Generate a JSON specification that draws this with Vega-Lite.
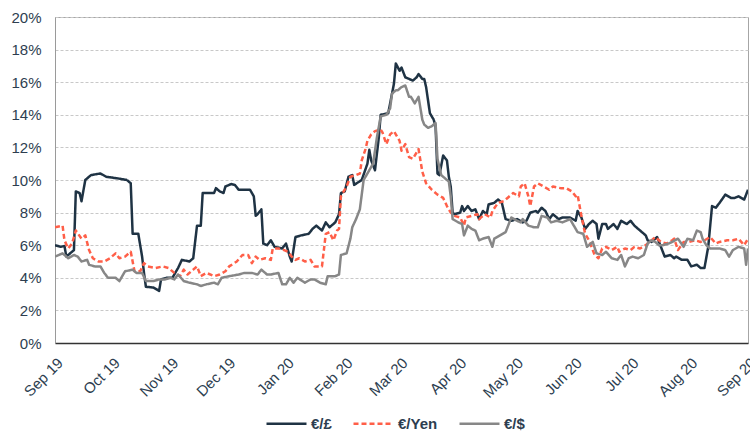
{
  "$schema": "https://vega.github.io/schema/vega-lite/v6.json",
  "width": 693,
  "height": 326,
  "autosize": {"type": "none"},
  "padding": {"left": 55, "top": 17, "right": 2, "bottom": 96},
  "background": "white",
  "config": {
    "font": "Liberation Sans",
    "view": {"stroke": "#a6a6a6", "strokeWidth": 1},
    "axis": {"labelFont": "Liberation Sans", "labelColor": "#2d3e50", "labelFontSize": 15}
  },
  "data": {"values": [
    {"d":"2019-09-01","s":"€/£","v":6.0},{"d":"2019-09-04","s":"€/£","v":5.9},{"d":"2019-09-06","s":"€/£","v":5.95},{"d":"2019-09-07","s":"€/£","v":5.3},{"d":"2019-09-10","s":"€/£","v":5.6},{"d":"2019-09-11","s":"€/£","v":5.7},{"d":"2019-09-12","s":"€/£","v":9.3},{"d":"2019-09-14","s":"€/£","v":9.2},{"d":"2019-09-15","s":"€/£","v":8.7},{"d":"2019-09-17","s":"€/£","v":10.0},{"d":"2019-09-20","s":"€/£","v":10.3},{"d":"2019-09-25","s":"€/£","v":10.4},{"d":"2019-09-28","s":"€/£","v":10.2},{"d":"2019-10-04","s":"€/£","v":10.1},{"d":"2019-10-09","s":"€/£","v":10.0},{"d":"2019-10-11","s":"€/£","v":9.8},{"d":"2019-10-12","s":"€/£","v":6.7},{"d":"2019-10-15","s":"€/£","v":6.7},{"d":"2019-10-17","s":"€/£","v":5.3},{"d":"2019-10-18","s":"€/£","v":4.3},{"d":"2019-10-19","s":"€/£","v":3.45},{"d":"2019-10-23","s":"€/£","v":3.4},{"d":"2019-10-26","s":"€/£","v":3.2},{"d":"2019-10-27","s":"€/£","v":3.9},{"d":"2019-10-30","s":"€/£","v":4.0},{"d":"2019-11-02","s":"€/£","v":4.0},{"d":"2019-11-05","s":"€/£","v":4.6},{"d":"2019-11-07","s":"€/£","v":5.1},{"d":"2019-11-11","s":"€/£","v":5.0},{"d":"2019-11-13","s":"€/£","v":5.2},{"d":"2019-11-15","s":"€/£","v":7.2},{"d":"2019-11-17","s":"€/£","v":7.2},{"d":"2019-11-18","s":"€/£","v":9.2},{"d":"2019-11-24","s":"€/£","v":9.2},{"d":"2019-11-25","s":"€/£","v":9.5},{"d":"2019-11-27","s":"€/£","v":9.3},{"d":"2019-11-29","s":"€/£","v":9.2},{"d":"2019-11-30","s":"€/£","v":9.6},{"d":"2019-12-03","s":"€/£","v":9.75},{"d":"2019-12-05","s":"€/£","v":9.7},{"d":"2019-12-07","s":"€/£","v":9.4},{"d":"2019-12-13","s":"€/£","v":9.4},{"d":"2019-12-15","s":"€/£","v":9.0},{"d":"2019-12-16","s":"€/£","v":7.8},{"d":"2019-12-17","s":"€/£","v":7.9},{"d":"2019-12-19","s":"€/£","v":8.2},{"d":"2019-12-20","s":"€/£","v":6.1},{"d":"2019-12-22","s":"€/£","v":6.0},{"d":"2019-12-24","s":"€/£","v":6.3},{"d":"2019-12-26","s":"€/£","v":5.9},{"d":"2019-12-30","s":"€/£","v":5.8},{"d":"2020-01-01","s":"€/£","v":6.1},{"d":"2020-01-03","s":"€/£","v":5.3},{"d":"2020-01-04","s":"€/£","v":5.0},{"d":"2020-01-06","s":"€/£","v":6.5},{"d":"2020-01-09","s":"€/£","v":6.6},{"d":"2020-01-13","s":"€/£","v":6.7},{"d":"2020-01-15","s":"€/£","v":7.0},{"d":"2020-01-17","s":"€/£","v":7.2},{"d":"2020-01-20","s":"€/£","v":6.9},{"d":"2020-01-22","s":"€/£","v":7.4},{"d":"2020-01-24","s":"€/£","v":7.1},{"d":"2020-01-27","s":"€/£","v":7.4},{"d":"2020-01-29","s":"€/£","v":7.9},{"d":"2020-01-30","s":"€/£","v":9.2},{"d":"2020-02-01","s":"€/£","v":9.3},{"d":"2020-02-03","s":"€/£","v":10.2},{"d":"2020-02-05","s":"€/£","v":10.3},{"d":"2020-02-06","s":"€/£","v":9.7},{"d":"2020-02-10","s":"€/£","v":10.0},{"d":"2020-02-13","s":"€/£","v":11.0},{"d":"2020-02-14","s":"€/£","v":11.85},{"d":"2020-02-15","s":"€/£","v":11.2},{"d":"2020-02-17","s":"€/£","v":10.6},{"d":"2020-02-19","s":"€/£","v":12.6},{"d":"2020-02-20","s":"€/£","v":14.0},{"d":"2020-02-24","s":"€/£","v":14.1},{"d":"2020-02-26","s":"€/£","v":15.3},{"d":"2020-02-27","s":"€/£","v":15.9},{"d":"2020-02-28","s":"€/£","v":17.15},{"d":"2020-03-01","s":"€/£","v":16.7},{"d":"2020-03-02","s":"€/£","v":16.9},{"d":"2020-03-04","s":"€/£","v":16.3},{"d":"2020-03-06","s":"€/£","v":16.2},{"d":"2020-03-08","s":"€/£","v":16.1},{"d":"2020-03-10","s":"€/£","v":16.3},{"d":"2020-03-11","s":"€/£","v":16.5},{"d":"2020-03-13","s":"€/£","v":16.2},{"d":"2020-03-14","s":"€/£","v":16.2},{"d":"2020-03-15","s":"€/£","v":15.7},{"d":"2020-03-17","s":"€/£","v":14.1},{"d":"2020-03-19","s":"€/£","v":13.7},{"d":"2020-03-20","s":"€/£","v":13.3},{"d":"2020-03-21","s":"€/£","v":10.4},{"d":"2020-03-22","s":"€/£","v":10.3},{"d":"2020-03-24","s":"€/£","v":11.5},{"d":"2020-03-26","s":"€/£","v":11.2},{"d":"2020-03-27","s":"€/£","v":10.2},{"d":"2020-03-28","s":"€/£","v":9.6},{"d":"2020-03-29","s":"€/£","v":8.0},{"d":"2020-03-30","s":"€/£","v":7.9},{"d":"2020-04-02","s":"€/£","v":8.0},{"d":"2020-04-03","s":"€/£","v":8.4},{"d":"2020-04-04","s":"€/£","v":8.1},{"d":"2020-04-06","s":"€/£","v":8.4},{"d":"2020-04-08","s":"€/£","v":8.1},{"d":"2020-04-10","s":"€/£","v":8.2},{"d":"2020-04-12","s":"€/£","v":7.6},{"d":"2020-04-14","s":"€/£","v":8.1},{"d":"2020-04-16","s":"€/£","v":7.9},{"d":"2020-04-17","s":"€/£","v":8.5},{"d":"2020-04-20","s":"€/£","v":8.6},{"d":"2020-04-22","s":"€/£","v":8.8},{"d":"2020-04-24","s":"€/£","v":8.6},{"d":"2020-04-26","s":"€/£","v":7.6},{"d":"2020-04-29","s":"€/£","v":7.5},{"d":"2020-05-02","s":"€/£","v":7.6},{"d":"2020-05-05","s":"€/£","v":7.4},{"d":"2020-05-07","s":"€/£","v":7.5},{"d":"2020-05-09","s":"€/£","v":8.0},{"d":"2020-05-12","s":"€/£","v":8.1},{"d":"2020-05-13","s":"€/£","v":8.0},{"d":"2020-05-15","s":"€/£","v":8.3},{"d":"2020-05-17","s":"€/£","v":8.1},{"d":"2020-05-19","s":"€/£","v":7.6},{"d":"2020-05-21","s":"€/£","v":7.9},{"d":"2020-05-24","s":"€/£","v":7.6},{"d":"2020-05-26","s":"€/£","v":7.7},{"d":"2020-05-30","s":"€/£","v":7.7},{"d":"2020-06-02","s":"€/£","v":7.5},{"d":"2020-06-03","s":"€/£","v":8.1},{"d":"2020-06-05","s":"€/£","v":7.7},{"d":"2020-06-07","s":"€/£","v":7.0},{"d":"2020-06-09","s":"€/£","v":7.3},{"d":"2020-06-11","s":"€/£","v":7.5},{"d":"2020-06-13","s":"€/£","v":7.3},{"d":"2020-06-14","s":"€/£","v":6.4},{"d":"2020-06-16","s":"€/£","v":7.3},{"d":"2020-06-18","s":"€/£","v":7.3},{"d":"2020-06-19","s":"€/£","v":7.0},{"d":"2020-06-22","s":"€/£","v":7.3},{"d":"2020-06-24","s":"€/£","v":7.0},{"d":"2020-06-26","s":"€/£","v":7.5},{"d":"2020-06-29","s":"€/£","v":7.3},{"d":"2020-07-01","s":"€/£","v":7.5},{"d":"2020-07-03","s":"€/£","v":7.2},{"d":"2020-07-06","s":"€/£","v":6.9},{"d":"2020-07-09","s":"€/£","v":6.6},{"d":"2020-07-10","s":"€/£","v":6.3},{"d":"2020-07-12","s":"€/£","v":6.2},{"d":"2020-07-15","s":"€/£","v":6.5},{"d":"2020-07-17","s":"€/£","v":5.9},{"d":"2020-07-19","s":"€/£","v":5.3},{"d":"2020-07-22","s":"€/£","v":5.4},{"d":"2020-07-24","s":"€/£","v":5.2},{"d":"2020-07-25","s":"€/£","v":5.3},{"d":"2020-07-28","s":"€/£","v":5.1},{"d":"2020-07-31","s":"€/£","v":5.1},{"d":"2020-08-02","s":"€/£","v":4.7},{"d":"2020-08-05","s":"€/£","v":4.8},{"d":"2020-08-07","s":"€/£","v":4.6},{"d":"2020-08-09","s":"€/£","v":4.6},{"d":"2020-08-11","s":"€/£","v":5.9},{"d":"2020-08-13","s":"€/£","v":8.4},{"d":"2020-08-15","s":"€/£","v":8.3},{"d":"2020-08-17","s":"€/£","v":8.6},{"d":"2020-08-20","s":"€/£","v":9.1},{"d":"2020-08-23","s":"€/£","v":8.9},{"d":"2020-08-25","s":"€/£","v":8.9},{"d":"2020-08-27","s":"€/£","v":9.0},{"d":"2020-08-30","s":"€/£","v":8.8},{"d":"2020-08-31","s":"€/£","v":9.1},{"d":"2020-09-01","s":"€/£","v":9.4},

    {"d":"2019-09-01","s":"€/Yen","v":7.1},{"d":"2019-09-05","s":"€/Yen","v":7.2},{"d":"2019-09-06","s":"€/Yen","v":6.3},{"d":"2019-09-08","s":"€/Yen","v":5.8},{"d":"2019-09-10","s":"€/Yen","v":6.1},{"d":"2019-09-12","s":"€/Yen","v":6.9},{"d":"2019-09-15","s":"€/Yen","v":6.4},{"d":"2019-09-17","s":"€/Yen","v":6.6},{"d":"2019-09-19","s":"€/Yen","v":5.7},{"d":"2019-09-21","s":"€/Yen","v":5.2},{"d":"2019-09-24","s":"€/Yen","v":5.0},{"d":"2019-09-27","s":"€/Yen","v":5.0},{"d":"2019-09-30","s":"€/Yen","v":5.2},{"d":"2019-10-03","s":"€/Yen","v":5.5},{"d":"2019-10-05","s":"€/Yen","v":5.2},{"d":"2019-10-08","s":"€/Yen","v":5.3},{"d":"2019-10-11","s":"€/Yen","v":5.6},{"d":"2019-10-13","s":"€/Yen","v":4.4},{"d":"2019-10-16","s":"€/Yen","v":4.4},{"d":"2019-10-18","s":"€/Yen","v":4.9},{"d":"2019-10-20","s":"€/Yen","v":4.7},{"d":"2019-10-24","s":"€/Yen","v":4.6},{"d":"2019-10-28","s":"€/Yen","v":4.7},{"d":"2019-10-31","s":"€/Yen","v":4.6},{"d":"2019-11-03","s":"€/Yen","v":4.3},{"d":"2019-11-06","s":"€/Yen","v":4.1},{"d":"2019-11-08","s":"€/Yen","v":4.5},{"d":"2019-11-10","s":"€/Yen","v":4.2},{"d":"2019-11-13","s":"€/Yen","v":4.5},{"d":"2019-11-15","s":"€/Yen","v":4.7},{"d":"2019-11-17","s":"€/Yen","v":4.1},{"d":"2019-11-20","s":"€/Yen","v":4.3},{"d":"2019-11-24","s":"€/Yen","v":4.1},{"d":"2019-11-27","s":"€/Yen","v":4.2},{"d":"2019-11-30","s":"€/Yen","v":4.4},{"d":"2019-12-02","s":"€/Yen","v":4.7},{"d":"2019-12-06","s":"€/Yen","v":5.0},{"d":"2019-12-09","s":"€/Yen","v":5.4},{"d":"2019-12-12","s":"€/Yen","v":5.4},{"d":"2019-12-14","s":"€/Yen","v":4.9},{"d":"2019-12-16","s":"€/Yen","v":5.3},{"d":"2019-12-18","s":"€/Yen","v":5.1},{"d":"2019-12-21","s":"€/Yen","v":5.2},{"d":"2019-12-24","s":"€/Yen","v":5.1},{"d":"2019-12-25","s":"€/Yen","v":5.8},{"d":"2019-12-28","s":"€/Yen","v":5.8},{"d":"2019-12-31","s":"€/Yen","v":5.7},{"d":"2020-01-02","s":"€/Yen","v":5.6},{"d":"2020-01-04","s":"€/Yen","v":5.3},{"d":"2020-01-06","s":"€/Yen","v":5.1},{"d":"2020-01-08","s":"€/Yen","v":5.2},{"d":"2020-01-11","s":"€/Yen","v":5.0},{"d":"2020-01-14","s":"€/Yen","v":5.1},{"d":"2020-01-16","s":"€/Yen","v":4.7},{"d":"2020-01-20","s":"€/Yen","v":4.7},{"d":"2020-01-22","s":"€/Yen","v":6.7},{"d":"2020-01-24","s":"€/Yen","v":6.8},{"d":"2020-01-26","s":"€/Yen","v":6.3},{"d":"2020-01-28","s":"€/Yen","v":6.9},{"d":"2020-01-29","s":"€/Yen","v":7.0},{"d":"2020-01-30","s":"€/Yen","v":9.0},{"d":"2020-02-02","s":"€/Yen","v":9.6},{"d":"2020-02-04","s":"€/Yen","v":10.2},{"d":"2020-02-07","s":"€/Yen","v":10.3},{"d":"2020-02-09","s":"€/Yen","v":10.4},{"d":"2020-02-10","s":"€/Yen","v":11.2},{"d":"2020-02-12","s":"€/Yen","v":11.9},{"d":"2020-02-13","s":"€/Yen","v":12.4},{"d":"2020-02-15","s":"€/Yen","v":12.8},{"d":"2020-02-17","s":"€/Yen","v":13.0},{"d":"2020-02-20","s":"€/Yen","v":13.1},{"d":"2020-02-21","s":"€/Yen","v":12.9},{"d":"2020-02-23","s":"€/Yen","v":12.2},{"d":"2020-02-25","s":"€/Yen","v":12.8},{"d":"2020-02-27","s":"€/Yen","v":13.0},{"d":"2020-02-29","s":"€/Yen","v":12.6},{"d":"2020-03-01","s":"€/Yen","v":12.4},{"d":"2020-03-02","s":"€/Yen","v":11.8},{"d":"2020-03-04","s":"€/Yen","v":12.2},{"d":"2020-03-06","s":"€/Yen","v":11.4},{"d":"2020-03-08","s":"€/Yen","v":11.3},{"d":"2020-03-11","s":"€/Yen","v":11.9},{"d":"2020-03-13","s":"€/Yen","v":10.5},{"d":"2020-03-15","s":"€/Yen","v":9.8},{"d":"2020-03-18","s":"€/Yen","v":9.4},{"d":"2020-03-21","s":"€/Yen","v":9.1},{"d":"2020-03-24","s":"€/Yen","v":8.9},{"d":"2020-03-26","s":"€/Yen","v":8.4},{"d":"2020-03-28","s":"€/Yen","v":8.0},{"d":"2020-03-30","s":"€/Yen","v":7.8},{"d":"2020-04-02","s":"€/Yen","v":7.7},{"d":"2020-04-04","s":"€/Yen","v":7.2},{"d":"2020-04-05","s":"€/Yen","v":7.7},{"d":"2020-04-08","s":"€/Yen","v":7.8},{"d":"2020-04-11","s":"€/Yen","v":7.9},{"d":"2020-04-12","s":"€/Yen","v":7.6},{"d":"2020-04-15","s":"€/Yen","v":7.9},{"d":"2020-04-18","s":"€/Yen","v":7.7},{"d":"2020-04-19","s":"€/Yen","v":8.1},{"d":"2020-04-22","s":"€/Yen","v":8.6},{"d":"2020-04-25","s":"€/Yen","v":8.7},{"d":"2020-04-27","s":"€/Yen","v":8.9},{"d":"2020-04-30","s":"€/Yen","v":9.2},{"d":"2020-05-03","s":"€/Yen","v":9.0},{"d":"2020-05-04","s":"€/Yen","v":9.6},{"d":"2020-05-06","s":"€/Yen","v":9.8},{"d":"2020-05-08","s":"€/Yen","v":9.0},{"d":"2020-05-09","s":"€/Yen","v":8.4},{"d":"2020-05-11","s":"€/Yen","v":9.6},{"d":"2020-05-13","s":"€/Yen","v":9.8},{"d":"2020-05-16","s":"€/Yen","v":9.6},{"d":"2020-05-19","s":"€/Yen","v":9.4},{"d":"2020-05-21","s":"€/Yen","v":9.6},{"d":"2020-05-25","s":"€/Yen","v":9.5},{"d":"2020-05-28","s":"€/Yen","v":9.5},{"d":"2020-05-31","s":"€/Yen","v":9.3},{"d":"2020-06-02","s":"€/Yen","v":9.0},{"d":"2020-06-03","s":"€/Yen","v":9.1},{"d":"2020-06-05","s":"€/Yen","v":7.8},{"d":"2020-06-07","s":"€/Yen","v":6.7},{"d":"2020-06-09","s":"€/Yen","v":6.3},{"d":"2020-06-12","s":"€/Yen","v":5.4},{"d":"2020-06-14","s":"€/Yen","v":5.2},{"d":"2020-06-16","s":"€/Yen","v":5.8},{"d":"2020-06-18","s":"€/Yen","v":5.9},{"d":"2020-06-21","s":"€/Yen","v":5.7},{"d":"2020-06-24","s":"€/Yen","v":5.9},{"d":"2020-06-25","s":"€/Yen","v":5.6},{"d":"2020-06-28","s":"€/Yen","v":5.8},{"d":"2020-07-01","s":"€/Yen","v":5.7},{"d":"2020-07-03","s":"€/Yen","v":5.9},{"d":"2020-07-06","s":"€/Yen","v":5.8},{"d":"2020-07-09","s":"€/Yen","v":6.0},{"d":"2020-07-11","s":"€/Yen","v":6.2},{"d":"2020-07-14","s":"€/Yen","v":6.5},{"d":"2020-07-16","s":"€/Yen","v":6.3},{"d":"2020-07-17","s":"€/Yen","v":6.2},{"d":"2020-07-20","s":"€/Yen","v":6.1},{"d":"2020-07-23","s":"€/Yen","v":6.3},{"d":"2020-07-24","s":"€/Yen","v":6.4},{"d":"2020-07-26","s":"€/Yen","v":5.7},{"d":"2020-07-29","s":"€/Yen","v":6.2},{"d":"2020-08-01","s":"€/Yen","v":6.2},{"d":"2020-08-04","s":"€/Yen","v":6.3},{"d":"2020-08-07","s":"€/Yen","v":6.2},{"d":"2020-08-09","s":"€/Yen","v":6.3},{"d":"2020-08-12","s":"€/Yen","v":6.5},{"d":"2020-08-15","s":"€/Yen","v":6.1},{"d":"2020-08-17","s":"€/Yen","v":6.2},{"d":"2020-08-21","s":"€/Yen","v":6.3},{"d":"2020-08-24","s":"€/Yen","v":6.3},{"d":"2020-08-27","s":"€/Yen","v":6.4},{"d":"2020-08-30","s":"€/Yen","v":6.0},{"d":"2020-09-01","s":"€/Yen","v":6.4},

    {"d":"2019-09-01","s":"€/$","v":5.3},{"d":"2019-09-05","s":"€/$","v":5.5},{"d":"2019-09-08","s":"€/$","v":5.2},{"d":"2019-09-11","s":"€/$","v":5.4},{"d":"2019-09-13","s":"€/$","v":5.3},{"d":"2019-09-15","s":"€/$","v":5.0},{"d":"2019-09-18","s":"€/$","v":5.1},{"d":"2019-09-19","s":"€/$","v":4.8},{"d":"2019-09-22","s":"€/$","v":4.7},{"d":"2019-09-25","s":"€/$","v":4.7},{"d":"2019-09-27","s":"€/$","v":4.3},{"d":"2019-09-29","s":"€/$","v":4.0},{"d":"2019-10-03","s":"€/$","v":4.0},{"d":"2019-10-05","s":"€/$","v":3.8},{"d":"2019-10-08","s":"€/$","v":4.4},{"d":"2019-10-12","s":"€/$","v":4.5},{"d":"2019-10-14","s":"€/$","v":4.3},{"d":"2019-10-17","s":"€/$","v":4.3},{"d":"2019-10-19","s":"€/$","v":3.8},{"d":"2019-10-23","s":"€/$","v":3.8},{"d":"2019-10-26","s":"€/$","v":3.9},{"d":"2019-10-29","s":"€/$","v":3.9},{"d":"2019-11-01","s":"€/$","v":4.0},{"d":"2019-11-03","s":"€/$","v":3.9},{"d":"2019-11-05","s":"€/$","v":4.2},{"d":"2019-11-08","s":"€/$","v":3.8},{"d":"2019-11-11","s":"€/$","v":3.7},{"d":"2019-11-15","s":"€/$","v":3.6},{"d":"2019-11-17","s":"€/$","v":3.5},{"d":"2019-11-20","s":"€/$","v":3.6},{"d":"2019-11-24","s":"€/$","v":3.7},{"d":"2019-11-26","s":"€/$","v":3.6},{"d":"2019-11-28","s":"€/$","v":4.0},{"d":"2019-12-02","s":"€/$","v":4.1},{"d":"2019-12-07","s":"€/$","v":4.2},{"d":"2019-12-10","s":"€/$","v":4.3},{"d":"2019-12-14","s":"€/$","v":4.3},{"d":"2019-12-17","s":"€/$","v":4.2},{"d":"2019-12-19","s":"€/$","v":4.5},{"d":"2019-12-22","s":"€/$","v":4.2},{"d":"2019-12-24","s":"€/$","v":4.2},{"d":"2019-12-28","s":"€/$","v":4.3},{"d":"2019-12-30","s":"€/$","v":3.6},{"d":"2020-01-01","s":"€/$","v":3.6},{"d":"2020-01-03","s":"€/$","v":4.0},{"d":"2020-01-05","s":"€/$","v":3.7},{"d":"2020-01-07","s":"€/$","v":4.0},{"d":"2020-01-11","s":"€/$","v":3.7},{"d":"2020-01-14","s":"€/$","v":3.9},{"d":"2020-01-16","s":"€/$","v":3.9},{"d":"2020-01-19","s":"€/$","v":3.7},{"d":"2020-01-22","s":"€/$","v":3.6},{"d":"2020-01-23","s":"€/$","v":4.1},{"d":"2020-01-27","s":"€/$","v":4.1},{"d":"2020-01-29","s":"€/$","v":4.2},{"d":"2020-01-30","s":"€/$","v":5.4},{"d":"2020-02-02","s":"€/$","v":5.5},{"d":"2020-02-04","s":"€/$","v":6.4},{"d":"2020-02-05","s":"€/$","v":7.1},{"d":"2020-02-07","s":"€/$","v":7.6},{"d":"2020-02-09","s":"€/$","v":8.2},{"d":"2020-02-11","s":"€/$","v":10.0},{"d":"2020-02-13","s":"€/$","v":10.4},{"d":"2020-02-14","s":"€/$","v":10.6},{"d":"2020-02-16","s":"€/$","v":11.0},{"d":"2020-02-17","s":"€/$","v":11.8},{"d":"2020-02-18","s":"€/$","v":12.6},{"d":"2020-02-20","s":"€/$","v":13.9},{"d":"2020-02-23","s":"€/$","v":14.0},{"d":"2020-02-25","s":"€/$","v":14.4},{"d":"2020-02-26","s":"€/$","v":15.3},{"d":"2020-02-28","s":"€/$","v":15.5},{"d":"2020-02-29","s":"€/$","v":15.5},{"d":"2020-03-02","s":"€/$","v":15.7},{"d":"2020-03-04","s":"€/$","v":15.8},{"d":"2020-03-06","s":"€/$","v":15.1},{"d":"2020-03-07","s":"€/$","v":15.1},{"d":"2020-03-09","s":"€/$","v":14.7},{"d":"2020-03-11","s":"€/$","v":15.1},{"d":"2020-03-13","s":"€/$","v":13.7},{"d":"2020-03-14","s":"€/$","v":13.4},{"d":"2020-03-16","s":"€/$","v":13.2},{"d":"2020-03-18","s":"€/$","v":13.3},{"d":"2020-03-20","s":"€/$","v":13.5},{"d":"2020-03-21","s":"€/$","v":11.3},{"d":"2020-03-23","s":"€/$","v":10.3},{"d":"2020-03-25","s":"€/$","v":10.1},{"d":"2020-03-27","s":"€/$","v":9.9},{"d":"2020-03-28","s":"€/$","v":9.0},{"d":"2020-03-29","s":"€/$","v":7.6},{"d":"2020-04-01","s":"€/$","v":7.4},{"d":"2020-04-03","s":"€/$","v":7.3},{"d":"2020-04-04","s":"€/$","v":6.6},{"d":"2020-04-06","s":"€/$","v":7.2},{"d":"2020-04-08","s":"€/$","v":7.0},{"d":"2020-04-10","s":"€/$","v":6.9},{"d":"2020-04-12","s":"€/$","v":6.3},{"d":"2020-04-14","s":"€/$","v":6.4},{"d":"2020-04-17","s":"€/$","v":6.5},{"d":"2020-04-19","s":"€/$","v":5.9},{"d":"2020-04-20","s":"€/$","v":6.4},{"d":"2020-04-23","s":"€/$","v":6.6},{"d":"2020-04-26","s":"€/$","v":6.8},{"d":"2020-04-27","s":"€/$","v":7.1},{"d":"2020-04-29","s":"€/$","v":7.7},{"d":"2020-05-02","s":"€/$","v":7.5},{"d":"2020-05-04","s":"€/$","v":7.4},{"d":"2020-05-05","s":"€/$","v":7.6},{"d":"2020-05-08","s":"€/$","v":7.2},{"d":"2020-05-11","s":"€/$","v":7.1},{"d":"2020-05-13","s":"€/$","v":7.1},{"d":"2020-05-15","s":"€/$","v":7.8},{"d":"2020-05-18","s":"€/$","v":7.7},{"d":"2020-05-20","s":"€/$","v":7.4},{"d":"2020-05-23","s":"€/$","v":7.5},{"d":"2020-05-26","s":"€/$","v":7.4},{"d":"2020-05-28","s":"€/$","v":7.5},{"d":"2020-05-30","s":"€/$","v":7.6},{"d":"2020-06-01","s":"€/$","v":7.2},{"d":"2020-06-03","s":"€/$","v":6.8},{"d":"2020-06-06","s":"€/$","v":6.7},{"d":"2020-06-08","s":"€/$","v":5.9},{"d":"2020-06-10","s":"€/$","v":6.1},{"d":"2020-06-11","s":"€/$","v":6.2},{"d":"2020-06-13","s":"€/$","v":5.5},{"d":"2020-06-16","s":"€/$","v":5.4},{"d":"2020-06-18","s":"€/$","v":5.6},{"d":"2020-06-21","s":"€/$","v":5.2},{"d":"2020-06-24","s":"€/$","v":5.1},{"d":"2020-06-26","s":"€/$","v":5.4},{"d":"2020-06-28","s":"€/$","v":4.7},{"d":"2020-06-30","s":"€/$","v":5.2},{"d":"2020-07-02","s":"€/$","v":5.3},{"d":"2020-07-05","s":"€/$","v":5.2},{"d":"2020-07-08","s":"€/$","v":5.4},{"d":"2020-07-10","s":"€/$","v":6.1},{"d":"2020-07-12","s":"€/$","v":6.3},{"d":"2020-07-14","s":"€/$","v":6.2},{"d":"2020-07-16","s":"€/$","v":6.0},{"d":"2020-07-18","s":"€/$","v":6.0},{"d":"2020-07-21","s":"€/$","v":6.1},{"d":"2020-07-23","s":"€/$","v":6.2},{"d":"2020-07-26","s":"€/$","v":6.4},{"d":"2020-07-29","s":"€/$","v":5.9},{"d":"2020-07-31","s":"€/$","v":6.4},{"d":"2020-08-03","s":"€/$","v":6.3},{"d":"2020-08-05","s":"€/$","v":6.9},{"d":"2020-08-07","s":"€/$","v":6.8},{"d":"2020-08-08","s":"€/$","v":6.4},{"d":"2020-08-10","s":"€/$","v":6.0},{"d":"2020-08-12","s":"€/$","v":5.8},{"d":"2020-08-15","s":"€/$","v":5.8},{"d":"2020-08-17","s":"€/$","v":5.8},{"d":"2020-08-20","s":"€/$","v":5.7},{"d":"2020-08-22","s":"€/$","v":5.3},{"d":"2020-08-24","s":"€/$","v":5.7},{"d":"2020-08-27","s":"€/$","v":5.9},{"d":"2020-08-30","s":"€/$","v":5.8},{"d":"2020-08-31","s":"€/$","v":4.8},{"d":"2020-09-01","s":"€/$","v":5.8}
  ]},
  "mark": {"type": "line", "strokeWidth": 2.5, "strokeJoin": "round", "clip": true},
  "encoding": {
    "x": {
      "field": "d", "type": "temporal",
      "scale": {"type": "utc", "domain": [{"year": 2019, "month": 9, "date": 1, "utc": true}, {"year": 2020, "month": 9, "date": 1, "utc": true}]},
      "axis": {
        "title": null, "format": "%b %y", "tickCount": {"interval": "month", "step": 1},
        "labelAngle": -45, "labelAlign": "right", "labelBaseline": "top", "labelPadding": 12,
        "ticks": false, "grid": false, "domainColor": "#333333", "domainWidth": 1.5,
        "labelOverlap": false, "labelBound": false, "labelFlush": false
      }
    },
    "y": {
      "field": "v", "type": "quantitative",
      "scale": {"domain": [0, 20], "nice": false},
      "axis": {
        "title": null, "values": [0, 2, 4, 6, 8, 10, 12, 14, 16, 18, 20], "labelExpr": "datum.value + '%'",
        "ticks": false, "grid": true, "gridColor": "#c8c8c8", "gridDash": [3, 2], "gridWidth": 1,
        "domainColor": "#9a9a9a", "labelPadding": 14
      }
    },
    "color": {
      "field": "s", "type": "nominal",
      "scale": {"domain": ["€/£", "€/Yen", "€/$"], "range": ["#1f3344", "#ff5f48", "#878787"]},
      "legend": {
        "title": null, "orient": "none", "legendX": 210, "legendY": 385, "direction": "horizontal",
        "symbolType": "stroke", "symbolSize": 1600, "symbolStrokeWidth": 2.5,
        "labelFontSize": 15, "labelFontWeight": "bold", "labelColor": "#2d3e50", "labelFont": "Liberation Sans",
        "labelOffset": 3, "columnPadding": 16
      }
    },
    "strokeDash": {
      "field": "s", "type": "nominal",
      "scale": {"domain": ["€/£", "€/Yen", "€/$"], "range": [[1, 0], [5, 3], [1, 0]]},
      "legend": {
        "title": null, "orient": "none", "legendX": 210, "legendY": 385, "direction": "horizontal",
        "symbolType": "stroke", "symbolSize": 1600, "symbolStrokeWidth": 2.5,
        "labelFontSize": 15, "labelFontWeight": "bold", "labelColor": "#2d3e50", "labelFont": "Liberation Sans",
        "labelOffset": 3, "columnPadding": 16
      }
    }
  }
}
